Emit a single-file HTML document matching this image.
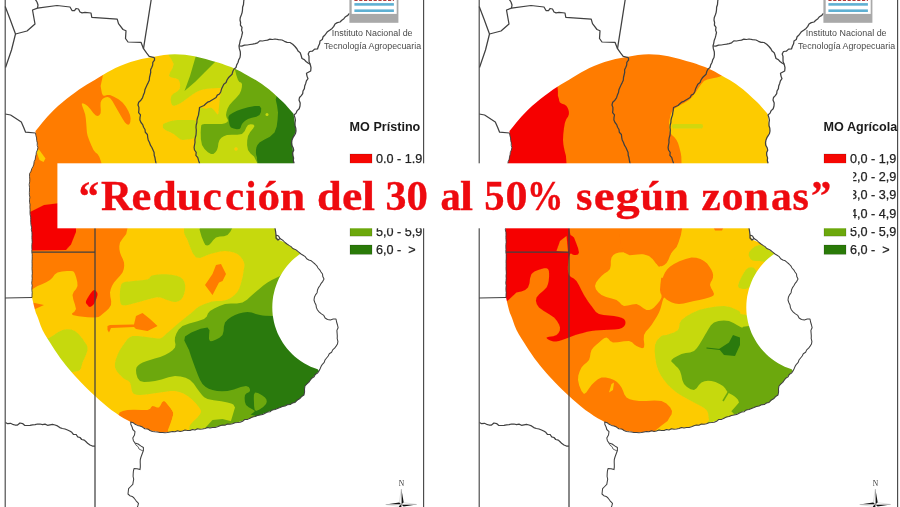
<!DOCTYPE html>
<html><head><meta charset="utf-8"><title>Mapa</title>
<style>html,body{margin:0;padding:0;background:#fff}svg{display:block;will-change:transform}</style></head>
<body>
<svg width="900" height="507" viewBox="0 0 900 507">
<defs>
<filter id="bl" x="-5%" y="-5%" width="110%" height="110%"><feGaussianBlur stdDeviation="0.55"/></filter>
<clipPath id="clipA"><path d="M35.5,131.0 L38.6,127.2 L43.0,121.8 L47.3,116.8 L50.9,112.9 L54.3,109.5 L58.0,106.0 L62.2,102.4 L66.7,98.8 L71.0,95.5 L75.1,92.5 L79.1,89.6 L83.0,87.0 L86.9,84.6 L90.8,82.3 L94.7,80.0 L98.7,77.5 L102.8,74.9 L107.0,72.5 L111.2,70.2 L115.4,68.1 L120.0,66.0 L125.1,64.0 L130.5,62.1 L136.0,60.5 L141.4,59.1 L146.9,58.0 L152.5,57.0 L158.2,56.0 L163.9,55.1 L169.5,54.5 L174.8,54.3 L180.0,54.4 L185.0,54.8 L189.8,55.4 L194.4,56.3 L199.5,57.5 L205.7,59.1 L212.3,60.9 L218.0,62.5 L222.0,63.8 L225.1,64.9 L228.0,66.0 L231.0,67.1 L233.9,68.3 L237.0,69.7 L240.6,71.6 L244.4,73.7 L248.0,75.7 L251.0,77.4 L253.8,78.9 L256.5,80.5 L259.2,82.3 L261.9,84.1 L264.5,86.0 L266.9,87.8 L269.2,89.6 L271.5,91.5 L273.8,93.6 L276.2,95.8 L278.3,97.8 L280.2,99.5 L281.9,101.0 L283.5,102.5 L285.0,104.1 L286.5,105.7 L288.0,107.5 L290.0,109.7 L292.0,112.0 L293.5,113.7 L296.0,131.0 L292.0,140.0 L294.0,163.0 L285.0,200.0 L275.0,228.0 L276.0,235.0 L278.0,239.5 L285.0,242.5 L301.0,254.0 L300.7,253.5 L297.7,255.7 L294.8,258.1 L292.0,260.6 L289.4,263.3 L287.0,266.1 L284.7,269.1 L282.6,272.1 L280.7,275.3 L278.9,278.6 L277.4,282.0 L276.1,285.5 L274.9,289.1 L274.0,292.7 L273.2,296.3 L272.7,300.0 L272.4,303.7 L272.3,307.5 L272.4,311.2 L272.7,314.9 L273.3,318.6 L274.0,322.3 L275.0,325.9 L276.2,329.4 L277.5,332.9 L279.1,336.3 L280.9,339.6 L282.8,342.7 L284.9,345.8 L287.2,348.8 L289.7,351.6 L292.3,354.2 L295.0,356.7 L297.9,359.1 L301.0,361.3 L304.1,363.3 L307.4,365.1 L310.7,366.7 L314.2,368.1 L317.7,369.3 L319.0,371.0 L305.0,386.0 L304.0,395.0 L295.0,402.5 L280.0,407.5 L260.0,415.0 L237.5,422.5 L212.5,427.5 L187.5,430.5 L162.5,432.5 L150.0,430.5 L140.0,426.0 L130.7,422.0 L130.7,422.0 L128.0,420.6 L124.1,418.5 L120.0,416.0 L115.8,413.1 L111.3,409.9 L107.0,406.5 L102.9,403.0 L98.8,399.5 L95.0,396.0 L91.5,392.8 L88.3,389.7 L85.0,386.5 L81.6,383.1 L78.3,379.5 L75.0,376.0 L71.9,372.5 L68.9,369.1 L66.0,365.5 L63.1,361.7 L60.2,357.9 L57.5,354.0 L54.9,350.2 L52.5,346.4 L50.0,342.5 L47.4,338.4 L44.8,334.2 L42.5,330.0 L40.7,325.8 L39.3,321.7 L38.0,318.0 L36.9,315.2 L35.9,312.9 L35.0,310.0 L33.9,305.7 L32.8,300.9 L32.0,297.5 L32.0,252.0 L32.0,235.0 L30.0,212.0 L29.5,190.0 L29.6,173.6 L33.0,166.5 L35.5,157.0 L37.9,147.6 L36.7,140.5 L35.5,133.0Z"/></clipPath>
<g id="base">
<path d="M5.2,6.5 L10.0,19.0 L15.5,34.0 L11.5,50.0 L5.5,67.5" fill="none" stroke="#404040" stroke-width="1.25" stroke-linejoin="round"/>
<path d="M15.5,34.0 L27.0,31.0 L35.0,24.0 L32.5,10.0 L37.5,8.2 L57.0,5.5 L70.0,7.0 L72.0,10.5 L74.5,10.5 L76.0,8.5 L78.5,9.0 L80.0,12.0 L82.0,12.8 L85.0,12.3 L91.0,13.0 L91.8,17.3 L117.2,19.2 L118.5,23.7 L123.0,29.5 L126.0,30.8 L125.5,38.5 L128.0,42.0 L141.0,42.3 L143.5,48.7 L146.7,53.2 L149.2,56.4 L154.4,57.7" fill="none" stroke="#404040" stroke-width="1.25" stroke-linejoin="round"/>
<path d="M37.5,8.2 L38.0,5.0 L37.0,2.0 L35.0,-1.0" fill="none" stroke="#404040" stroke-width="1.25" stroke-linejoin="round"/>
<path d="M151.3,-1.0 L143.5,48.7" fill="none" stroke="#404040" stroke-width="1.25" stroke-linejoin="round"/>
<path d="M154.5,57.5 L154.5,60.2 L152.8,62.4 L152.7,65.0 L151.7,67.4 L150.6,69.8 L150.7,72.5 L150.1,75.0 L149.5,77.5 L149.3,80.2 L148.2,82.6 L147.0,85.0 L145.9,87.4 L144.9,89.8 L144.5,92.5 L143.4,95.1 L142.5,97.8 L140.9,100.2 L138.7,102.2 L138.0,105.0 L138.9,107.4 L138.9,110.0 L138.6,112.6 L140.5,114.9 L140.0,117.5 L139.9,120.1 L141.0,122.5 L142.7,124.6 L143.6,127.2 L145.0,129.5 L145.3,132.3 L147.4,134.5 L147.7,137.3 L148.2,140.0 L149.5,142.5 L150.4,145.1 L151.9,147.5 L153.0,150.0 L154.1,152.5 L154.2,155.2 L155.0,157.8 L155.4,160.4 L156.0,163.0 L156.8,165.4 L156.6,168.0 L157.3,170.4 L158.6,172.6 L158.7,175.2 L159.8,177.5 L160.0,180.0" fill="none" stroke="#404040" stroke-width="1.25" stroke-linejoin="round"/>
<path d="M244.0,-1.0 L243.7,1.8 L243.5,4.5 L242.6,7.2 L242.5,10.0 L242.1,12.6 L241.3,15.0 L240.3,17.4 L240.0,20.0 L240.6,22.5 L240.4,25.1 L242.0,27.4 L241.6,30.1 L242.5,32.5 L241.9,35.2 L241.2,37.9 L240.2,40.5 L239.7,43.3 L239.0,46.0 L239.4,48.9 L240.3,51.7 L240.4,54.6 L240.0,57.5 L238.7,59.9 L238.0,62.5 L236.7,64.9 L236.0,67.5 L233.9,69.2 L232.8,71.5 L232.1,74.2 L230.2,76.0 L228.4,77.8 L227.0,80.0 L226.1,82.5 L223.8,84.3 L222.6,86.7 L221.5,89.1 L220.8,91.7 L219.5,94.0 L217.3,95.1 L216.1,97.5 L214.1,98.7 L212.0,100.0 L209.9,101.3 L207.6,102.2 L205.8,103.8 L204.0,105.5 L201.7,106.5 L199.5,107.5 L199.3,110.1 L198.8,112.6 L198.5,115.1 L197.6,117.5 L197.0,120.0 L196.9,122.5 L196.2,125.0 L196.0,127.5 L196.3,130.0 L196.2,132.5 L196.0,135.0 L195.3,137.5 L194.9,139.9 L195.0,142.5 L194.5,145.0 L194.1,147.4 L194.5,150.0 L196.2,152.3 L195.9,155.4 L197.8,157.7 L198.5,160.4 L199.5,163.0 L199.5,165.5 L200.2,167.9 L201.6,170.2 L201.3,172.8 L202.7,175.0 L202.7,177.5 L203.0,180.0" fill="none" stroke="#404040" stroke-width="1.25" stroke-linejoin="round"/>
<path d="M239.0,46.0 L241.8,46.1 L244.5,45.1 L247.3,45.0 L250.0,44.5 L252.6,44.2 L255.1,43.6 L257.6,42.8 L259.8,40.9 L262.5,41.0 L265.0,40.5 L267.5,40.1 L269.9,39.1 L272.5,39.5 L275.0,39.0 L278.5,39.7 L282.0,40.0 L284.5,41.3 L287.1,42.3 L290.0,42.5 L292.7,44.2 L295.0,46.5 L297.0,49.0 L298.1,51.1 L300.2,52.7 L301.0,55.0 L302.0,58.5 L304.3,59.6 L306.0,61.5 L308.0,63.0 L310.2,64.2" fill="none" stroke="#404040" stroke-width="1.25" stroke-linejoin="round"/>
<path d="M310.2,64.2 L309.1,61.7 L309.0,59.0 L309.0,56.4 L308.2,54.0 L309.5,51.5 L312.3,51.2 L314.6,49.1 L317.5,49.0 L318.4,46.3 L319.6,43.8 L320.0,41.0 L322.3,39.5 L323.1,36.8 L325.0,35.0 L327.1,32.1 L330.0,30.0 L332.1,28.4 L333.8,26.4 L335.0,24.0 L337.3,22.6 L340.0,22.0 L341.8,20.2 L343.9,18.7 L345.5,16.7 L347.8,15.4 L349.4,13.3" fill="none" stroke="#404040" stroke-width="1.25" stroke-linejoin="round"/>
<path d="M310.2,64.2 L311.0,67.6 L310.7,71.0 L306.5,73.3 L307.0,76.1 L308.0,78.7 L306.4,80.8 L305.7,83.4 L304.7,85.9 L304.4,88.6 L303.0,91.0 L302.7,93.6 L301.3,95.6 L299.5,97.5 L299.0,100.0 L300.2,102.9 L300.0,106.0 L299.2,108.7 L297.2,110.6 L296.1,113.1 L294.0,115.0 L294.9,117.6 L295.4,120.2 L295.0,123.0 L295.0,125.7 L295.8,128.3 L296.0,131.0 L295.5,133.5 L294.2,135.6 L292.9,137.7 L292.0,140.0 L291.5,142.6 L291.7,145.2 L293.1,147.6 L293.7,150.2 L292.6,152.8 L292.7,155.4 L293.6,157.9 L293.3,160.5 L294.0,163.0 L293.0,165.3 L292.9,167.9 L292.1,170.2 L293.0,172.9 L292.1,175.3 L291.7,177.7 L291.5,180.2 L289.8,182.4 L290.0,185.0" fill="none" stroke="#404040" stroke-width="1.25" stroke-linejoin="round"/>
<path d="M272.0,215.0 L273.3,217.4 L272.9,220.3 L274.5,222.6 L274.6,225.3 L275.0,228.0 L275.6,231.5 L276.0,235.0 L278.5,236.0 L280.0,238.5 L278.0,240.0 L276.0,238.0 L276.0,235.0" fill="none" stroke="#404040" stroke-width="1.25" stroke-linejoin="round"/>
<path d="M280.0,238.5 L282.7,240.2 L285.0,242.5 L287.0,244.0 L289.0,245.4 L291.1,246.6 L292.8,248.5 L295.2,249.4 L297.2,250.8 L299.1,252.4 L301.0,254.0 L303.1,255.3 L305.2,256.6 L306.7,258.7 L308.8,260.0 L311.3,260.8 L313.1,262.4 L315.0,264.0 L316.8,265.8 L318.0,268.0 L319.7,269.8 L321.0,272.0 L322.5,274.0 L322.8,276.6 L324.0,279.0 L322.8,281.3 L321.2,283.3 L320.0,285.5 L318.5,287.6 L317.5,290.0 L317.1,292.7 L315.5,294.9 L314.4,297.3 L314.0,300.0 L314.8,302.5 L316.0,304.9 L316.4,307.6 L317.5,310.0 L319.3,312.1 L321.4,313.9 L323.8,315.4 L325.1,318.0 L327.5,319.5 L330.4,319.9 L333.2,319.1 L336.0,319.0 L336.6,322.0 L337.5,325.0 L338.1,327.7 L336.9,330.4 L337.1,333.1 L337.3,335.9 L337.2,338.6 L337.9,341.3 L337.5,344.0 L336.1,346.1 L334.6,348.2 L332.7,349.9 L331.6,352.3 L329.3,353.7 L328.2,356.0 L326.6,358.0 L325.0,360.0 L324.2,362.4 L322.4,364.3 L321.1,366.4 L320.1,368.7 L319.0,371.0 L317.5,373.1 L315.2,374.5 L314.1,376.9 L311.7,378.2 L310.2,380.3 L308.7,382.4 L306.7,384.1 L305.0,386.0 L304.5,389.0 L304.6,392.0 L304.0,395.0 L301.5,396.6 L299.6,398.8 L296.9,400.3 L295.0,402.5 L292.4,403.0 L290.2,404.6 L287.4,404.8 L285.1,406.0 L282.4,406.4 L280.0,407.5 L277.5,408.4 L275.0,409.4 L272.3,409.9 L270.2,411.7 L267.5,412.1 L265.1,413.3 L262.7,414.6 L260.0,415.0 L257.4,415.5 L255.0,416.6 L252.4,417.1 L250.0,418.2 L247.6,419.4 L244.8,419.4 L242.6,421.3 L240.2,422.2 L237.5,422.5 L234.9,422.7 L232.5,423.7 L230.0,424.2 L227.4,424.1 L225.0,425.2 L222.4,425.0 L220.0,425.8 L217.5,426.7 L215.1,427.5 L212.5,427.5 L210.0,428.1 L207.4,427.5 L205.0,428.5 L202.5,429.1 L200.0,429.2 L197.4,428.8 L195.0,430.0 L192.5,429.6 L190.1,430.6 L187.5,430.5 L185.0,430.1 L182.5,430.9 L180.0,431.6 L177.5,430.8 L175.0,431.7 L172.5,431.4 L170.0,431.9 L167.5,432.6 L165.0,432.8 L162.5,432.5 L159.9,432.5 L157.4,432.1 L154.9,431.8 L152.4,431.4 L150.0,430.5 L147.7,428.9 L144.8,428.7 L142.5,427.1 L140.0,426.0 L137.5,425.4 L135.2,424.3 L133.1,422.7 L130.7,422.0 L130.9,424.6 L132.1,427.0 L132.8,429.5 L135.0,431.6 L134.5,435.0 L132.8,438.0 L133.4,440.7 L135.0,443.0 L138.1,444.0 L140.7,445.9 L143.4,447.5 L143.4,450.6 L142.2,453.8 L141.0,457.0 L140.3,459.5 L140.2,462.0 L140.3,464.5 L140.3,467.1 L140.0,469.6 L137.1,468.7 L134.0,468.6 L133.4,471.2 L133.2,473.8 L133.1,476.5 L133.7,479.2 L133.2,481.8 L132.8,484.4 L130.7,486.5 L128.6,488.6 L128.3,491.3 L128.0,494.0 L129.8,495.7 L132.2,496.4 L134.0,498.0 L136.1,500.8 L138.5,503.4 L137.9,505.7 L137.0,508.0" fill="none" stroke="#404040" stroke-width="1.05" stroke-linejoin="round"/>
<path d="M135.0,443.0 L136.0,445.2 L138.1,446.7 L139.0,449.0 L143.0,451.0" fill="none" stroke="#404040" stroke-width="0.8" stroke-linejoin="round"/>
<path d="M5.2,114.0 L10.6,115.0 L21.3,122.0 L23.7,127.5 L25.6,132.2 L35.5,133.0" fill="none" stroke="#404040" stroke-width="1.25" stroke-linejoin="round"/>
<path d="M35.5,133.0 L35.9,135.5 L36.6,138.0 L36.7,140.5 L37.3,142.8 L37.2,145.3 L37.9,147.6 L37.4,150.0 L36.4,152.2 L36.1,154.6 L35.5,157.0 L35.2,159.5 L34.1,161.7 L33.9,164.2 L33.0,166.5 L31.7,168.8 L31.0,171.4 L29.6,173.6 L29.5,176.3 L29.8,179.1 L29.7,181.8 L29.2,184.5 L29.5,187.3 L29.5,190.0 L29.4,192.4 L29.4,194.9 L29.9,197.3 L29.5,199.8 L29.5,202.2 L30.1,204.7 L29.9,207.1 L30.1,209.6 L30.0,212.0 L30.1,214.6 L30.8,217.1 L30.7,219.7 L30.7,222.2 L30.9,224.8 L31.6,227.3 L31.3,229.9 L32.0,232.4 L32.0,235.0 L31.8,237.4 L32.0,239.8 L32.2,242.2 L31.8,244.6 L31.8,247.0 L31.9,249.4 L31.7,251.8 L32.2,254.2 L32.2,256.6 L32.2,259.0 L32.0,261.4 L32.1,263.8 L32.1,266.2 L32.0,268.7 L32.2,271.1 L32.3,273.5 L32.0,275.9 L32.2,278.3 L32.0,280.7 L31.7,283.1 L32.2,285.5 L31.9,287.9 L31.9,290.3 L32.2,292.7 L32.0,295.1 L32.0,297.5" fill="none" stroke="#404040" stroke-width="0.9" stroke-linejoin="round"/>
<path d="M5.0,298.0 L32.0,297.5" fill="none" stroke="#404040" stroke-width="1.25" stroke-linejoin="round"/>
<path d="M32.0,252.0 L95.0,252.0" fill="none" stroke="#404040" stroke-width="1.25" stroke-linejoin="round"/>
<path d="M95.0,215.0 L95.0,508.0" fill="none" stroke="#404040" stroke-width="1.25" stroke-linejoin="round"/>
<path d="M5.5,422.5 L7.7,423.7 L10.4,423.3 L12.6,424.3 L15.0,425.0 L17.5,425.0 L20.0,423.0 L22.6,423.6 L24.8,425.4 L27.5,425.5 L30.0,425.3 L32.5,424.8 L35.1,424.7 L37.5,424.0 L40.0,424.0 L42.5,424.6 L45.0,424.1 L47.5,425.3 L50.0,424.8 L52.5,424.4 L55.0,425.0 L57.5,425.9 L59.8,427.6 L62.3,428.5 L65.0,429.0 L67.5,430.0 L69.7,431.0 L71.8,432.3 L73.4,434.4 L76.2,434.5 L77.6,436.8 L80.0,437.5 L81.7,439.5 L84.3,440.1 L86.1,441.8 L87.9,443.6 L90.0,445.0 L92.4,446.0 L95.0,446.0" fill="none" stroke="#404040" stroke-width="1.25" stroke-linejoin="round"/>
<rect x="5.2" y="-5" width="418.4" height="520" fill="none" stroke="#484848" stroke-width="1.15"/>
<g>
<rect x="349.4" y="-1" width="49" height="23.8" fill="#a9a9a9"/>
<rect x="351.7" y="-1" width="45" height="14.9" fill="#ffffff"/>
<rect x="354.4" y="3.1" width="39.5" height="2.6" fill="#5fb0d2"/>
<rect x="354.4" y="9.4" width="39.5" height="2.6" fill="#5fb0d2"/>
<path d="M354.4,0.3 H393.9" stroke="#b23a3a" stroke-width="1.2" stroke-dasharray="3.2,1.6"/>
<text x="372.2" y="36.1" font-family="Liberation Sans, sans-serif" font-size="8.92" fill="#4a4a4a" text-anchor="middle">Instituto Nacional de</text>
<text x="372.5" y="48.9" font-family="Liberation Sans, sans-serif" font-size="8.84" fill="#4a4a4a" text-anchor="middle">Tecnología Agropecuaria</text>
</g>
<g>
<text x="401.5" y="485.8" font-family="Liberation Serif, serif" font-size="7.5" fill="#333" text-anchor="middle">N</text>
<path d="M401.4,489 L403.8,503 L401.4,504.5 Z" fill="#111"/>
<path d="M401.4,489 L399.2,503 L401.4,504.5 Z" fill="#fff" stroke="#999" stroke-width="0.3"/>
<path d="M385.7,504.5 L399.2,502.6 L401.4,504.5 Z" fill="#111"/>
<path d="M385.7,504.5 L399.2,506.4 L401.4,504.5 Z" fill="#fff" stroke="#999" stroke-width="0.3"/>
<path d="M416.7,504.5 L403.6,506.4 L401.4,504.5 Z" fill="#111"/>
<path d="M416.7,504.5 L403.6,502.6 L401.4,504.5 Z" fill="#fff" stroke="#999" stroke-width="0.3"/>
<path d="M401.4,520 L399,506 L401.4,504.5 Z" fill="#111"/>
</g>
</g>
</defs>
<rect width="900" height="507" fill="#ffffff"/>
<g id="mapL">
<g clip-path="url(#clipA)"><g filter="url(#bl)">
<rect x="0" y="40" width="360" height="420" fill="#fdcb06"/>
<path d="M20.0,120.0 L42.7,95.0 L73.9,78.8 L97.0,70.0 L103.7,70.7 L102.2,78.7 L100.6,86.0 L101.3,90.0 L101.9,93.3 L103.0,95.5 L104.8,95.8 L107.1,94.9 L110.0,95.0 L113.9,96.7 L118.5,99.3 L122.5,102.5 L125.7,106.4 L128.3,110.9 L130.0,115.0 L130.6,118.6 L130.3,121.9 L129.5,124.0 L128.4,124.7 L126.9,124.2 L125.0,122.5 L122.7,119.1 L120.1,114.5 L117.5,110.0 L114.9,105.5 L112.4,101.1 L110.0,98.0 L107.8,96.9 L105.8,97.2 L104.0,98.0 L102.5,99.0 L101.4,100.4 L100.6,102.6 L100.5,106.0 L100.8,110.1 L100.6,113.3 L99.5,115.1 L97.9,116.0 L95.9,115.6 L93.3,113.0 L90.3,109.1 L87.6,106.0 L85.1,104.2 L82.9,103.3 L81.7,103.8 L82.3,106.3 L83.8,110.2 L85.2,114.4 L85.8,118.6 L86.2,123.0 L86.5,127.0 L86.7,130.0 L86.9,132.5 L87.6,135.7 L89.2,140.3 L91.4,145.6 L93.5,150.0 L95.5,152.5 L97.5,154.1 L99.4,157.0 L101.1,161.9 L102.8,168.1 L105.0,175.0 L107.9,182.7 L111.3,191.2 L115.0,200.0 L119.7,209.6 L124.7,219.6 L127.5,228.0 L126.2,234.0 L122.7,238.5 L120.0,242.5 L119.3,246.2 L119.4,249.3 L120.0,252.5 L121.2,255.8 L122.9,259.2 L124.0,262.5 L124.2,265.8 L123.7,269.2 L122.5,272.5 L120.0,275.8 L116.8,279.2 L114.0,282.5 L112.1,285.7 L110.8,289.0 L110.0,292.5 L110.3,296.6 L111.2,301.0 L111.0,305.0 L108.8,308.5 L105.6,311.5 L102.5,314.0 L100.5,315.8 L98.6,317.0 L95.0,317.5 L87.6,317.2 L78.6,316.3 L72.5,315.0 L72.0,313.6 L74.4,311.7 L76.0,309.0 L75.0,304.7 L73.3,299.6 L72.5,295.0 L73.8,291.7 L76.1,289.0 L77.5,286.0 L77.3,281.9 L76.2,277.4 L75.0,274.0 L74.1,272.2 L73.1,271.3 L71.0,271.0 L67.0,270.9 L61.9,271.4 L57.5,272.5 L54.7,274.6 L52.6,277.4 L50.0,280.0 L46.2,282.2 L41.9,284.3 L37.5,286.0 L33.1,288.8 L28.6,291.2 L25.0,289.0 L22.6,282.5 L21.0,271.3 L20.0,250.0 L16.8,210.4 L14.1,160.8Z" fill="#ff7b00"/>
<path d="M36.0,150.5 L39.0,149.5 L45.5,158.5 L43.5,162.0 L39.5,160.0Z" fill="#fdcb06"/>
<path d="M28.0,213.0 L44.0,205.0 L60.0,203.0 L76.0,225.0 L76.0,232.0 L71.0,244.5 L66.0,250.0 L28.0,250.5Z" fill="#f60602"/>
<path d="M87.5,305.0 L86.6,304.0 L85.9,302.9 L86.0,301.0 L87.7,297.7 L90.3,293.8 L92.5,291.0 L94.0,290.1 L95.1,290.3 L96.0,291.0 L96.8,291.9 L97.4,293.1 L97.5,295.0 L96.7,297.9 L95.4,301.3 L94.0,304.0 L92.6,305.6 L91.2,306.6 L90.0,307.0 L89.0,306.8 L88.2,306.0Z" fill="#f60602"/>
<path d="M30.0,302.0 L44.0,305.0 L34.0,309.5Z" fill="#ff7b00"/>
<path d="M107.5,326.0 L110.0,325.0 L134.0,324.5 L136.0,316.0 L142.5,313.0 L150.0,319.0 L157.5,326.0 L147.5,331.0 L136.0,329.0 L134.0,327.0 L111.0,328.0 L109.0,332.5 L107.5,330.0Z" fill="#ff7b00"/>
<path d="M205.0,285.0 L212.5,274.0 L216.0,265.0 L221.0,264.0 L226.0,274.0 L222.5,281.0 L219.0,282.5 L212.5,295.0Z" fill="#ff7b00"/>
<path d="M118.0,416.0 L119.6,412.4 L122.9,410.9 L127.5,410.0 L133.9,409.7 L141.6,410.1 L147.5,410.0 L150.2,408.8 L151.3,407.1 L152.5,406.0 L154.6,406.4 L156.9,407.4 L159.0,407.5 L160.6,405.3 L162.1,402.2 L164.0,401.0 L166.9,403.2 L170.2,407.3 L172.5,411.0 L173.3,413.2 L173.1,414.9 L172.5,417.5 L171.5,421.6 L170.1,426.6 L169.0,431.0 L170.0,434.7 L171.4,437.8 L168.0,440.0 L155.4,441.6 L138.2,442.1 L125.0,440.0 L119.4,433.1 L117.8,423.6Z" fill="#ff7b00"/>
<path d="M167.8,48.0 L167.3,52.9 L171.1,58.7 L173.7,64.0 L172.4,68.6 L169.9,72.8 L169.0,76.0 L171.4,77.6 L175.4,78.3 L178.4,79.6 L179.8,82.4 L180.2,85.8 L179.6,89.0 L177.2,91.4 L173.7,93.6 L171.3,96.0 L170.7,99.5 L171.2,103.2 L172.5,105.6 L174.7,105.8 L177.8,104.6 L180.8,103.0 L183.4,101.3 L186.0,99.2 L189.0,97.0 L192.5,94.6 L196.4,92.0 L201.0,90.0 L207.0,88.8 L213.7,88.2 L218.6,88.0 L220.7,88.1 L221.0,88.6 L221.0,90.0 L220.8,92.7 L220.2,96.2 L219.7,99.8 L219.3,103.3 L219.0,106.8 L218.7,109.7 L218.5,112.1 L218.3,113.9 L217.7,114.6 L216.6,113.6 L215.1,111.5 L213.7,109.7 L212.7,108.7 L211.9,108.0 L210.7,107.7 L208.9,107.9 L206.8,108.4 L204.8,108.7 L203.0,108.1 L201.2,107.2 L199.8,107.2 L198.8,108.8 L198.2,111.3 L197.8,114.0 L197.6,116.4 L197.6,118.9 L197.5,122.0 L197.1,125.9 L196.5,130.3 L196.0,135.0 L195.5,139.9 L195.0,145.1 L195.0,150.0 L196.2,153.6 L197.9,157.0 L198.5,163.0 L197.1,173.9 L194.6,187.4 L192.0,200.0 L189.0,210.6 L185.9,220.2 L184.0,228.0 L184.1,233.0 L185.5,236.2 L187.5,240.0 L189.8,246.2 L192.6,253.0 L196.0,257.5 L200.2,257.9 L205.1,255.9 L210.0,254.0 L215.0,252.7 L220.1,251.5 L225.0,251.0 L229.6,251.4 L233.9,252.4 L237.5,254.0 L240.4,256.5 L242.6,259.5 L244.0,262.5 L244.5,265.0 L244.2,267.4 L243.7,270.0 L243.3,272.9 L242.8,276.0 L242.0,279.5 L240.9,283.6 L239.5,288.1 L237.4,292.0 L234.3,295.2 L230.6,298.0 L226.4,300.0 L221.8,300.9 L216.8,301.1 L212.0,301.6 L207.5,302.9 L203.3,304.5 L199.5,306.3 L196.5,308.3 L194.1,310.5 L191.6,312.7 L189.0,314.7 L186.5,316.8 L183.7,319.0 L180.6,321.5 L177.3,324.3 L174.2,326.9 L171.3,329.4 L168.5,331.9 L166.0,334.0 L164.0,335.9 L162.2,337.5 L160.0,338.5 L157.2,338.6 L154.0,338.1 L150.0,337.5 L144.4,336.7 L137.9,335.9 L132.5,336.0 L129.3,337.4 L127.1,339.6 L125.0,342.5 L122.3,346.2 L119.6,350.6 L117.5,355.0 L115.9,359.3 L114.9,363.5 L115.0,367.5 L116.8,371.2 L119.6,374.6 L122.5,377.5 L125.2,379.4 L127.9,380.6 L130.0,382.5 L131.0,385.7 L131.5,389.5 L132.5,392.5 L134.2,394.1 L136.4,394.8 L140.0,395.0 L145.9,394.5 L153.2,393.4 L160.0,392.5 L165.5,391.7 L170.4,391.0 L175.0,391.0 L179.4,391.9 L183.5,393.6 L187.5,396.0 L191.8,399.5 L196.0,403.8 L199.0,407.5 L200.5,409.9 L200.9,411.7 L200.0,414.0 L197.2,417.4 L193.2,421.2 L190.0,425.0 L183.1,428.8 L176.9,432.4 L187.0,435.0 L229.1,450.4 L287.5,464.6 L330.0,435.0 L345.4,318.0 L344.9,157.0 L330.0,40.0 L292.7,10.4 L240.9,24.8 L200.0,40.0 L180.6,41.8 L172.1,44.4Z" fill="#c6d90a"/>
<path d="M163.0,126.0 L162.9,125.1 L163.1,124.3 L164.2,123.4 L166.7,122.4 L170.1,121.3 L173.7,120.5 L177.3,120.1 L181.2,120.0 L185.0,120.0 L189.2,119.9 L193.5,119.9 L196.5,121.0 L197.6,124.0 L197.5,128.1 L197.0,131.7 L196.3,134.3 L195.3,136.4 L193.8,138.0 L191.8,138.9 L189.4,139.3 L187.0,139.5 L184.9,139.8 L182.9,140.0 L180.8,139.5 L178.6,138.0 L176.3,136.0 L173.7,134.0 L170.4,132.3 L166.8,130.7 L164.2,129.3 L163.1,128.1 L162.9,127.0Z" fill="#c6d90a"/>
<path d="M121.3,284.3 L123.2,282.4 L125.9,281.8 L129.6,281.4 L135.3,280.8 L142.0,280.3 L147.3,279.6 L149.5,278.3 L150.2,276.7 L152.0,275.4 L156.1,274.7 L161.2,274.3 L166.3,274.3 L171.4,274.8 L176.5,275.7 L180.5,277.2 L183.0,279.4 L184.5,282.3 L185.2,285.5 L185.1,289.4 L184.2,293.8 L182.8,297.3 L180.9,299.7 L178.4,301.2 L175.7,302.0 L172.7,301.8 L169.5,300.7 L166.3,299.7 L163.4,298.6 L160.6,297.6 L156.8,297.3 L151.4,298.4 L145.1,300.3 L139.0,302.0 L133.3,303.6 L127.8,305.1 L123.7,305.6 L121.4,304.7 L120.4,302.7 L120.0,299.7 L119.8,294.8 L120.2,288.9Z" fill="#c6d90a"/>
<path d="M40.0,340.0 L40.7,337.1 L44.6,337.9 L49.0,338.0 L53.2,335.4 L57.9,332.2 L62.5,330.0 L66.8,329.3 L71.1,329.6 L75.0,331.0 L78.8,334.2 L82.3,338.6 L85.0,342.5 L86.7,345.1 L87.5,347.3 L87.5,350.0 L86.3,354.0 L84.3,358.5 L82.5,362.5 L81.7,365.6 L81.1,368.1 L80.0,370.0 L78.1,371.0 L75.6,371.5 L72.5,372.0 L69.0,374.3 L64.9,376.8 L60.0,375.0 L52.8,364.9 L44.8,350.6Z" fill="#c6d90a"/>
<path d="M172.0,392.0 L176.7,392.2 L182.3,393.7 L187.5,396.0 L192.0,399.5 L196.1,403.8 L199.0,407.5 L200.5,409.9 L200.9,411.7 L200.0,414.0 L197.2,417.4 L193.2,421.2 L190.0,425.0 L189.1,428.8 L188.9,432.4 L187.0,435.0 L181.0,436.4 L173.2,436.7 L168.0,435.0 L167.9,430.1 L170.5,423.2 L172.5,417.5 L173.1,414.7 L173.2,413.1 L172.5,411.0 L170.0,407.6 L166.7,403.6 L165.0,400.0 L165.9,396.7 L168.5,393.7Z" fill="#fdcb06"/>
<path d="M197.0,52.0 L217.0,60.0 L205.0,72.0 L195.0,82.0 L184.5,91.0 L190.0,76.0Z" fill="#6ca80c"/>
<path d="M237.0,65.0 L234.7,68.2 L236.2,74.7 L238.0,80.0 L239.4,81.9 L241.0,82.6 L242.0,84.0 L241.9,86.9 L241.1,90.4 L239.5,94.0 L236.5,97.6 L232.6,101.4 L229.5,105.0 L227.6,108.6 L226.5,112.0 L226.0,115.0 L226.6,117.4 L227.7,119.4 L228.0,121.0 L227.0,122.3 L225.1,123.3 L222.0,124.0 L216.5,124.1 L209.7,123.9 L204.5,124.0 L202.1,124.4 L201.3,125.2 L201.0,127.5 L200.7,132.6 L200.9,139.3 L202.0,145.0 L204.5,149.1 L207.9,152.3 L211.0,154.0 L213.4,153.9 L215.4,152.3 L217.0,150.0 L217.9,146.9 L218.4,143.2 L219.5,140.0 L221.4,137.8 L223.8,136.2 L227.0,135.0 L231.8,134.7 L237.4,134.8 L242.0,134.0 L244.6,131.2 L246.3,127.6 L248.0,125.0 L250.6,124.3 L253.3,124.6 L254.5,126.0 L253.1,128.5 L250.2,132.0 L248.0,136.0 L247.2,140.4 L247.1,145.3 L248.0,150.0 L250.5,153.4 L254.0,156.5 L257.0,162.5 L257.7,174.5 L258.0,189.4 L262.0,200.0 L273.6,206.5 L288.9,208.8 L300.0,200.0 L303.9,171.1 L303.6,131.1 L300.0,100.0 L292.3,87.2 L281.3,83.3 L270.0,80.0 L258.0,73.5 L245.6,67.6Z" fill="#6ca80c"/>
<path d="M201.0,224.0 L199.5,229.4 L201.6,236.8 L204.0,242.5 L205.4,244.9 L207.1,245.5 L209.0,245.0 L211.0,243.1 L213.3,240.0 L216.0,237.5 L219.8,236.6 L224.1,236.3 L227.5,235.0 L230.5,231.6 L232.6,227.2 L231.0,224.0 L222.3,222.5 L209.8,222.2Z" fill="#6ca80c"/>
<path d="M290.0,268.0 L284.5,270.1 L282.4,273.1 L280.0,276.0 L276.0,278.1 L271.8,280.1 L267.5,282.5 L263.3,285.6 L259.2,289.0 L255.0,292.5 L251.0,296.1 L247.0,299.8 L242.5,302.5 L236.9,303.4 L230.8,303.4 L225.0,304.0 L219.5,305.9 L214.2,308.4 L210.0,311.0 L207.9,313.6 L206.8,316.4 L204.0,319.0 L197.5,321.2 L189.2,323.4 L182.5,326.0 L178.7,329.6 L176.4,333.6 L175.0,337.5 L174.8,341.0 L175.5,344.4 L175.0,347.5 L172.6,350.3 L169.1,352.8 L165.0,355.0 L160.2,356.9 L154.8,358.5 L150.0,360.0 L146.1,361.3 L142.7,362.6 L140.0,364.0 L137.9,365.7 L136.5,367.6 L136.0,370.0 L136.3,373.7 L137.6,378.0 L140.0,381.0 L144.0,382.0 L149.2,381.8 L155.0,381.0 L161.5,379.4 L168.5,377.2 L175.0,376.0 L180.6,376.4 L185.6,377.7 L190.0,380.0 L193.8,383.8 L197.0,388.5 L200.0,392.5 L202.2,395.2 L204.2,397.3 L207.5,399.0 L213.7,400.3 L221.3,401.3 L227.5,402.5 L231.1,403.4 L233.3,404.5 L235.0,407.5 L232.9,414.5 L230.2,423.5 L237.5,430.0 L265.1,437.7 L302.7,442.8 L330.0,430.0 L338.3,382.0 L336.4,316.0 L330.0,268.0 L318.5,255.7 L302.6,261.4Z" fill="#6ca80c"/>
<path d="M206.0,427.0 L212.5,420.0 L222.5,419.0 L236.0,422.5 L236.0,432.0 L206.0,432.0Z" fill="#6ca80c"/>
<path d="M229.5,115.0 L232.6,112.9 L237.0,110.8 L242.0,109.0 L248.1,107.3 L254.8,106.0 L259.5,106.0 L261.2,108.3 L261.0,111.9 L259.5,115.0 L256.3,116.7 L251.9,117.8 L248.0,119.0 L245.5,120.6 L243.5,122.3 L242.0,124.0 L241.1,125.9 L240.6,127.8 L239.5,129.0 L236.9,129.2 L233.6,128.6 L231.0,127.5 L229.8,125.7 L229.2,123.3 L229.0,121.0 L228.5,119.0 L228.4,117.0Z" fill="#2a7a08"/>
<path d="M277.0,95.0 L275.7,99.4 L277.1,105.8 L278.0,112.5 L277.6,119.4 L276.7,126.5 L274.5,132.5 L269.9,136.7 L264.1,139.7 L259.5,142.5 L257.3,145.2 L256.4,147.6 L256.0,150.0 L255.9,152.5 L256.2,155.0 L257.0,157.5 L257.1,160.3 L257.7,163.1 L262.0,165.0 L273.6,168.1 L288.9,170.5 L300.0,165.0 L303.7,144.3 L303.1,115.7 L300.0,95.0 L293.1,89.2 L283.7,91.1Z" fill="#2a7a08"/>
<path d="M185.0,336.5 L191.3,332.4 L200.6,328.8 L207.5,327.5 L209.5,330.2 L209.1,335.1 L209.0,339.0 L209.8,340.7 L210.8,341.3 L212.5,341.0 L215.6,339.8 L219.5,337.8 L222.5,335.0 L223.6,331.1 L223.9,326.5 L225.0,322.5 L227.7,319.5 L231.2,317.0 L235.0,315.0 L239.0,313.4 L243.2,312.4 L247.5,312.0 L251.7,312.6 L255.8,313.9 L260.0,315.0 L262.5,315.5 L265.0,315.8 L272.5,316.0 L290.5,312.2 L313.4,308.3 L330.0,316.0 L337.0,347.0 L337.6,389.5 L330.0,420.0 L308.1,426.7 L278.0,421.4 L256.0,416.0 L250.6,414.4 L253.2,412.8 L255.0,411.0 L252.3,409.2 L248.7,407.3 L246.0,405.0 L244.9,401.7 L244.6,398.0 L245.0,395.0 L246.6,393.3 L248.8,392.2 L250.0,391.0 L249.9,389.0 L248.7,387.0 L246.0,386.0 L240.8,387.1 L233.9,389.4 L227.5,391.0 L222.1,391.3 L217.0,390.9 L212.5,390.0 L208.7,388.7 L205.4,386.8 L202.5,384.0 L200.1,380.1 L198.1,375.4 L196.0,370.0 L193.6,363.5 L191.1,356.4 L189.0,350.0 L186.5,344.9 L184.3,340.4Z" fill="#2a7a08"/>
<path d="M255.0,392.5 L258.0,393.0 L262.0,395.2 L265.0,397.5 L266.4,399.5 L266.8,401.7 L266.0,404.0 L263.2,406.9 L259.1,409.8 L256.0,411.0 L254.6,409.4 L254.1,406.0 L254.0,402.5 L253.8,398.7 L253.9,394.8Z" fill="#6ca80c"/>
<circle cx="267" cy="114.5" r="1.5" fill="#c6d90a"/>
<circle cx="236" cy="149" r="1.7" fill="#fdcb06"/>
</g></g>
<use href="#base"/>
<text x="349.6" y="131" font-family="Liberation Sans, sans-serif" font-size="12.6" font-weight="bold" fill="#1a1a1a">MO Prístino</text>
<rect x="350" y="154.0" width="22" height="9.3" fill="#f60602" stroke="rgba(0,0,0,0.25)" stroke-width="0.6"/>
<text x="376" y="163.0" font-family="Liberation Sans, sans-serif" font-size="12.65" fill="#222" stroke="#222" stroke-width="0.25">0,0 - 1,9</text>
<rect x="350" y="172.2" width="22" height="9.3" fill="#ff7b00" stroke="rgba(0,0,0,0.25)" stroke-width="0.6"/>
<text x="376" y="181.2" font-family="Liberation Sans, sans-serif" font-size="12.65" fill="#222" stroke="#222" stroke-width="0.25">2,0 - 2,9</text>
<rect x="350" y="190.4" width="22" height="9.3" fill="#fdcb06" stroke="rgba(0,0,0,0.25)" stroke-width="0.6"/>
<text x="376" y="199.4" font-family="Liberation Sans, sans-serif" font-size="12.65" fill="#222" stroke="#222" stroke-width="0.25">3,0 - 3,9</text>
<rect x="350" y="208.6" width="22" height="9.3" fill="#c6d90a" stroke="rgba(0,0,0,0.25)" stroke-width="0.6"/>
<text x="376" y="217.6" font-family="Liberation Sans, sans-serif" font-size="12.65" fill="#222" stroke="#222" stroke-width="0.25">4,0 - 4,9</text>
<rect x="350" y="226.8" width="22" height="9.3" fill="#6ca80c" stroke="rgba(0,0,0,0.25)" stroke-width="0.6"/>
<text x="376" y="235.8" font-family="Liberation Sans, sans-serif" font-size="12.65" fill="#222" stroke="#222" stroke-width="0.25">5,0 - 5,9</text>
<rect x="350" y="245.0" width="22" height="9.3" fill="#2a7a08" stroke="rgba(0,0,0,0.25)" stroke-width="0.6"/>
<text x="376" y="254.0" font-family="Liberation Sans, sans-serif" font-size="12.65" fill="#222" stroke="#222" stroke-width="0.25">6,0 -  ></text>
</g>
<g id="mapR" transform="translate(474,0)">
<g clip-path="url(#clipA)"><g filter="url(#bl)">
<rect x="0" y="40" width="360" height="420" fill="#ff7b00"/>
<path d="M258.0,66.0 L250.0,69.2 L248.9,72.7 L248.0,75.5 L245.3,76.8 L242.7,77.4 L240.0,78.0 L236.7,78.7 L233.2,79.5 L230.0,81.0 L227.3,83.9 L224.9,87.5 L222.5,91.0 L220.3,94.1 L218.1,97.0 L215.0,100.0 L210.1,103.0 L204.5,106.0 L200.0,109.0 L197.7,111.9 L196.7,114.8 L196.0,117.5 L195.4,120.1 L195.1,122.5 L195.0,125.0 L195.0,127.5 L195.2,130.0 L196.0,132.5 L197.9,134.9 L200.4,137.3 L202.5,140.0 L204.0,143.0 L205.1,146.4 L206.0,150.0 L206.8,153.2 L207.3,156.8 L207.5,163.0 L207.2,173.9 L206.6,187.4 L206.0,200.0 L205.6,210.5 L205.3,220.0 L205.0,228.0 L204.9,234.0 L204.7,238.5 L204.0,242.5 L202.2,246.1 L199.8,249.3 L197.5,252.5 L195.8,256.2 L194.3,260.0 L192.5,263.0 L190.3,265.0 L187.8,266.2 L185.0,266.0 L182.0,263.4 L178.8,259.3 L175.0,256.0 L170.4,254.4 L165.2,253.6 L160.0,253.0 L154.7,252.4 L149.4,252.2 L145.0,252.5 L141.7,253.5 L139.3,255.1 L137.5,257.5 L136.8,261.0 L136.8,265.3 L136.0,269.0 L133.6,271.6 L130.4,273.6 L127.5,276.0 L124.7,279.1 L122.1,282.6 L121.0,286.0 L121.9,289.2 L124.2,292.3 L127.5,295.0 L132.1,296.9 L137.7,298.4 L142.5,300.0 L145.4,302.2 L147.4,304.6 L150.0,306.0 L153.9,305.6 L158.3,304.4 L162.5,304.0 L166.1,305.7 L169.4,308.3 L172.5,310.0 L175.2,310.1 L177.6,309.2 L180.0,307.5 L182.8,304.6 L185.7,300.9 L187.5,297.5 L187.5,295.1 L186.5,293.0 L186.0,290.0 L186.4,284.5 L187.2,278.0 L189.0,274.0 L187.7,274.6 L187.2,277.6 L200.0,280.0 L239.3,288.6 L291.9,296.5 L330.0,280.0 L342.3,214.6 L340.1,124.7 L330.0,60.0 L309.0,45.1 L280.1,55.4Z" fill="#fdcb06"/>
<path d="M195.0,296.0 L193.2,298.1 L191.5,297.5 L190.0,297.5 L189.0,299.6 L188.2,302.3 L187.5,305.0 L186.9,307.3 L186.2,309.6 L185.0,312.5 L182.9,316.4 L180.2,320.8 L177.5,325.0 L174.7,328.4 L171.9,331.6 L170.0,335.0 L169.7,339.5 L170.3,344.3 L170.0,347.5 L168.1,348.2 L165.3,347.3 L162.5,346.0 L160.3,344.4 L158.1,342.3 L155.0,341.0 L149.9,341.3 L143.9,342.2 L139.0,342.5 L136.2,340.9 L134.4,338.7 L132.5,337.5 L130.1,338.3 L127.5,340.3 L125.0,342.5 L122.3,344.7 L119.6,347.2 L117.5,350.0 L116.5,353.2 L116.0,356.8 L115.0,360.0 L112.7,362.5 L109.9,364.7 L107.5,367.5 L105.7,371.2 L104.3,375.5 L104.0,380.0 L105.2,385.4 L107.5,391.0 L110.0,394.0 L112.3,392.6 L114.8,388.7 L117.5,385.0 L120.6,382.0 L123.9,379.2 L127.5,377.5 L131.7,377.4 L136.1,378.4 L140.0,380.0 L143.0,382.0 L145.4,384.6 L147.5,387.5 L149.1,390.9 L150.4,394.6 L152.5,397.5 L155.7,399.3 L159.8,400.3 L165.0,401.0 L172.2,400.9 L180.5,400.4 L187.5,401.0 L192.4,403.6 L196.1,407.3 L198.0,411.0 L197.6,414.2 L195.5,417.4 L193.5,421.0 L186.9,425.9 L180.5,431.2 L190.0,435.0 L231.2,442.1 L288.4,447.7 L330.0,435.0 L345.2,386.1 L344.8,318.9 L330.0,270.0 L291.7,256.8 L238.9,262.0 L200.0,270.0 L189.1,277.6 L192.0,288.2Z" fill="#fdcb06"/>
<path d="M150.0,220.0 L166.0,216.8 L188.0,217.1 L204.0,220.0 L208.4,226.3 L206.9,235.1 L204.5,242.5 L202.6,247.0 L199.8,250.1 L197.5,252.5 L196.5,253.9 L196.0,254.7 L195.0,256.0 L192.7,258.9 L189.9,262.4 L187.5,265.0 L186.1,266.3 L185.1,266.7 L184.0,266.0 L182.9,263.7 L181.8,260.3 L180.0,257.5 L177.5,255.9 L174.3,254.8 L170.0,254.0 L163.3,254.5 L155.6,255.2 L150.0,252.5 L146.5,242.8 L145.3,229.6Z" fill="#ff7b00"/>
<path d="M187.5,285.0 L188.1,280.9 L189.2,276.5 L191.0,272.5 L193.3,269.3 L196.2,266.5 L200.0,264.0 L205.4,261.3 L211.7,258.9 L217.5,257.5 L222.2,257.7 L226.4,259.1 L230.0,261.0 L233.1,263.6 L235.6,266.9 L237.5,270.0 L238.6,272.6 L239.1,275.1 L239.0,277.5 L238.1,279.9 L236.6,282.4 L236.0,285.0 L237.1,288.1 L239.1,291.4 L240.0,294.0 L239.4,295.6 L237.7,296.5 L235.0,297.5 L230.7,298.7 L225.4,299.9 L220.0,301.0 L214.8,302.3 L209.6,303.5 L205.0,304.0 L201.1,303.6 L197.9,302.4 L195.0,301.0 L192.5,299.4 L190.5,297.4 L189.0,295.0 L188.0,292.1 L187.5,288.7Z" fill="#ff7b00"/>
<path d="M239.0,226.0 L250.0,226.0 L248.0,230.5 L241.0,230.5Z" fill="#ff7b00"/>
<path d="M135.0,392.5 L137.5,384.0 L140.0,382.5 L139.0,390.0Z" fill="#fdcb06"/>
<path d="M20.0,125.0 L36.6,99.9 L59.6,89.0 L77.0,84.0 L83.2,84.3 L83.9,90.4 L84.0,96.0 L84.9,98.7 L85.2,100.8 L86.0,102.5 L88.0,103.7 L90.5,104.6 L92.5,106.0 L93.9,108.3 L94.8,111.1 L95.0,114.0 L94.1,116.5 L92.4,119.0 L91.0,122.5 L90.0,127.9 L89.3,134.2 L89.0,140.0 L89.4,144.6 L90.2,148.7 L91.0,152.5 L91.5,154.1 L91.9,155.5 L92.5,163.0 L93.2,182.7 L93.9,208.4 L95.0,228.0 L96.5,235.1 L98.2,236.0 L100.0,237.5 L102.0,242.6 L104.1,248.2 L105.0,252.5 L104.0,254.4 L102.0,254.9 L100.0,255.0 L98.5,254.5 L97.1,253.6 L96.0,254.0 L95.1,256.8 L94.4,261.0 L94.0,265.0 L93.9,268.6 L94.1,272.0 L95.0,275.0 L97.0,277.0 L99.8,278.6 L102.5,281.0 L105.0,285.2 L107.5,290.3 L110.0,295.0 L112.5,299.0 L115.0,302.7 L117.5,306.0 L119.7,309.1 L121.9,311.9 L125.0,314.0 L129.6,315.1 L135.1,315.5 L140.0,316.0 L144.0,316.8 L147.5,317.7 L150.0,319.0 L151.3,320.9 L151.5,323.0 L151.0,325.0 L149.9,326.6 L147.9,328.0 L145.0,329.0 L140.6,329.6 L135.1,329.8 L130.0,330.0 L125.6,330.3 L121.6,330.5 L117.5,331.0 L113.2,331.8 L109.0,332.9 L105.0,334.0 L101.5,335.1 L98.2,336.3 L95.0,337.5 L91.6,338.8 L88.1,340.1 L85.0,341.0 L82.2,341.4 L79.7,341.4 L77.5,341.0 L75.1,340.1 L73.0,338.7 L72.5,337.5 L75.0,336.8 L79.1,336.2 L82.5,335.0 L84.5,333.0 L85.8,330.4 L86.0,327.5 L85.0,324.4 L83.0,320.9 L80.0,317.5 L75.2,314.2 L69.4,310.8 L65.0,307.5 L62.8,304.2 L61.9,300.8 L62.5,297.5 L65.2,294.2 L69.3,290.8 L72.5,287.5 L74.0,284.1 L74.7,280.7 L75.0,277.5 L75.1,274.2 L74.9,271.1 L74.0,269.0 L72.4,268.2 L70.1,268.3 L67.5,269.0 L64.2,270.0 L60.5,271.5 L57.5,274.0 L56.1,278.2 L55.5,283.3 L54.0,287.5 L51.2,289.9 L47.4,291.4 L42.5,292.5 L35.0,299.6 L26.2,306.3 L20.0,294.0 L16.2,245.6 L14.9,178.2Z" fill="#f60602"/>
<path d="M82.5,251.0 L86.0,241.0 L92.5,236.0 L94.0,252.0Z" fill="#ff7b00"/>
<rect x="198" y="124" width="31" height="4.5" rx="2" fill="#c6d90a" opacity="0.8"/>
<path d="M275.0,252.5 L277.2,249.4 L280.8,246.4 L285.0,245.0 L290.2,246.3 L295.9,249.3 L300.0,252.5 L301.7,255.9 L301.7,259.5 L300.0,262.0 L295.8,262.4 L290.0,261.7 L285.0,261.0 L281.8,260.9 L279.4,260.8 L277.5,260.0 L275.8,258.0 L274.7,255.2Z" fill="#c6d90a"/>
<path d="M264.0,286.0 L265.1,282.0 L267.6,276.8 L270.0,272.5 L271.7,270.0 L273.3,268.4 L275.0,267.5 L277.0,267.2 L279.1,267.6 L281.0,269.0 L283.0,272.1 L284.8,276.2 L285.0,280.0 L282.5,283.0 L278.5,285.6 L275.0,287.5 L273.0,288.6 L271.6,289.1 L270.0,289.0 L267.6,288.7 L265.1,287.9Z" fill="#c6d90a"/>
<path d="M207.5,320.0 L212.0,316.4 L218.1,312.9 L225.0,310.0 L233.1,307.9 L242.1,306.4 L250.0,306.0 L256.0,307.0 L260.9,309.1 L265.0,311.0 L266.2,312.6 L266.6,314.0 L272.5,315.0 L290.1,311.0 L313.2,306.6 L330.0,315.0 L337.7,349.1 L339.0,395.9 L330.0,430.0 L302.7,438.9 L265.1,435.0 L237.5,430.0 L230.0,427.4 L232.5,423.7 L235.0,420.0 L234.5,416.6 L234.1,413.1 L232.5,410.0 L229.3,407.4 L224.9,405.1 L220.0,402.5 L214.4,399.4 L208.1,396.1 L202.5,392.5 L197.8,388.6 L193.6,384.4 L190.0,380.0 L186.9,375.4 L184.4,370.5 L182.5,365.0 L181.3,358.3 L180.7,351.0 L181.0,345.0 L182.6,340.9 L185.1,338.0 L187.5,336.0 L189.0,335.2 L190.4,335.3 L192.5,335.0 L196.1,333.8 L200.5,332.2 L204.0,330.0 L205.2,327.0 L205.6,323.5Z" fill="#c6d90a"/>
<path d="M197.5,360.0 L199.8,358.0 L203.5,355.9 L207.5,354.0 L211.7,353.0 L216.1,352.4 L220.0,351.0 L223.0,348.1 L225.4,344.5 L227.5,341.0 L229.3,338.1 L230.7,335.4 L232.5,332.5 L234.5,329.0 L236.9,325.3 L240.0,322.5 L244.5,321.1 L249.9,320.6 L255.0,321.0 L259.5,322.9 L263.8,325.6 L267.5,327.5 L268.6,327.5 L269.2,326.7 L275.0,326.0 L291.9,322.4 L314.0,319.0 L330.0,326.0 L336.6,354.0 L337.1,392.5 L330.0,420.0 L309.4,425.9 L281.1,420.9 L261.0,415.0 L257.3,411.2 L261.6,406.5 L265.0,402.5 L264.0,399.8 L262.1,397.7 L260.0,396.0 L258.0,394.7 L256.0,393.8 L254.0,392.5 L252.5,390.5 L251.1,388.2 L249.0,386.0 L245.6,384.0 L241.5,382.1 L237.5,381.0 L234.0,380.8 L230.6,381.3 L227.5,382.5 L224.9,385.1 L222.6,388.3 L220.0,390.0 L216.6,389.3 L213.0,387.0 L210.0,384.0 L208.3,380.0 L207.3,375.1 L206.0,371.0 L204.0,368.1 L201.8,365.9 L200.0,364.0 L198.4,362.5 L197.3,361.4Z" fill="#6ca80c"/>
<path d="M255,391 L249,401" stroke="#6ca80c" stroke-width="1.5" fill="none"/>
<path d="M245.0,349.0 L255.0,342.5 L259.0,335.0 L266.0,337.5 L266.0,345.0 L261.0,356.0 L250.0,355.0Z" fill="#2a7a08"/>
<path d="M232.5,348 L246,349.5" stroke="#2a7a08" stroke-width="1.2" fill="none"/>
</g></g>
<use href="#base"/>
<text x="349.6" y="131" font-family="Liberation Sans, sans-serif" font-size="12.6" font-weight="bold" fill="#1a1a1a">MO Agrícola</text>
<rect x="350" y="154.0" width="22" height="9.3" fill="#f60602" stroke="rgba(0,0,0,0.25)" stroke-width="0.6"/>
<text x="376" y="163.0" font-family="Liberation Sans, sans-serif" font-size="12.65" fill="#222" stroke="#222" stroke-width="0.25">0,0 - 1,9</text>
<rect x="350" y="172.2" width="22" height="9.3" fill="#ff7b00" stroke="rgba(0,0,0,0.25)" stroke-width="0.6"/>
<text x="376" y="181.2" font-family="Liberation Sans, sans-serif" font-size="12.65" fill="#222" stroke="#222" stroke-width="0.25">2,0 - 2,9</text>
<rect x="350" y="190.4" width="22" height="9.3" fill="#fdcb06" stroke="rgba(0,0,0,0.25)" stroke-width="0.6"/>
<text x="376" y="199.4" font-family="Liberation Sans, sans-serif" font-size="12.65" fill="#222" stroke="#222" stroke-width="0.25">3,0 - 3,9</text>
<rect x="350" y="208.6" width="22" height="9.3" fill="#c6d90a" stroke="rgba(0,0,0,0.25)" stroke-width="0.6"/>
<text x="376" y="217.6" font-family="Liberation Sans, sans-serif" font-size="12.65" fill="#222" stroke="#222" stroke-width="0.25">4,0 - 4,9</text>
<rect x="350" y="226.8" width="22" height="9.3" fill="#6ca80c" stroke="rgba(0,0,0,0.25)" stroke-width="0.6"/>
<text x="376" y="235.8" font-family="Liberation Sans, sans-serif" font-size="12.65" fill="#222" stroke="#222" stroke-width="0.25">5,0 - 5,9</text>
<rect x="350" y="245.0" width="22" height="9.3" fill="#2a7a08" stroke="rgba(0,0,0,0.25)" stroke-width="0.6"/>
<text x="376" y="254.0" font-family="Liberation Sans, sans-serif" font-size="12.65" fill="#222" stroke="#222" stroke-width="0.25">6,0 -  ></text>
</g>
<rect x="57.4" y="163.3" width="795.8" height="65" fill="#ffffff"/>
<g font-family="Liberation Serif, serif" font-weight="bold" font-size="42.5" fill="#ee0a0f" stroke="#ee0a0f" stroke-width="0.35">
<text transform="translate(78.70,210.2) scale(0.955,1)">“</text>
<text transform="translate(101.00,210.2) scale(1.010,1)">R</text>
<text transform="translate(131.50,210.2) scale(1.050,1)">e</text>
<text transform="translate(152.60,210.2) scale(1.023,1)">d</text>
<text transform="translate(176.50,210.2) scale(1.070,1)">u</text>
<text transform="translate(202.60,210.2) scale(1.019,1)">c</text>
<text transform="translate(224.90,210.2) scale(1.013,1)">c</text>
<text transform="translate(245.40,210.2) scale(0.924,1)">i</text>
<text transform="translate(257.60,210.2) scale(1.059,1)">ó</text>
<text transform="translate(279.90,210.2) scale(1.066,1)">n</text>
<text transform="translate(317.10,210.2) scale(1.044,1)">d</text>
<text transform="translate(342.10,210.2) scale(1.077,1)">e</text>
<text transform="translate(362.10,210.2) scale(1.102,1)">l</text>
<text transform="translate(385.40,210.2) scale(0.984,1)">3</text>
<text transform="translate(406.50,210.2) scale(1.007,1)">0</text>
<text transform="translate(440.40,210.2) scale(0.955,1)">a</text>
<text transform="translate(459.90,210.2) scale(1.102,1)">l</text>
<text transform="translate(484.30,210.2) scale(0.955,1)">5</text>
<text transform="translate(505.40,210.2) scale(1.035,1)">0</text>
<text transform="translate(527.10,210.2) scale(0.856,1)">%</text>
<text transform="translate(576.00,210.2) scale(0.991,1)">s</text>
<text transform="translate(593.70,210.2) scale(1.109,1)">e</text>
<text transform="translate(615.40,210.2) scale(1.139,1)">g</text>
<text transform="translate(640.40,210.2) scale(0.998,1)">ú</text>
<text transform="translate(664.30,210.2) scale(1.044,1)">n</text>
<text transform="translate(701.50,210.2) scale(1.019,1)">z</text>
<text transform="translate(721.50,210.2) scale(1.035,1)">o</text>
<text transform="translate(743.70,210.2) scale(1.070,1)">n</text>
<text transform="translate(771.00,210.2) scale(0.979,1)">a</text>
<text transform="translate(792.60,210.2) scale(0.991,1)">s</text>
<text transform="translate(811.00,210.2) scale(0.955,1)">”</text>
</g>
</svg>
</body></html>
